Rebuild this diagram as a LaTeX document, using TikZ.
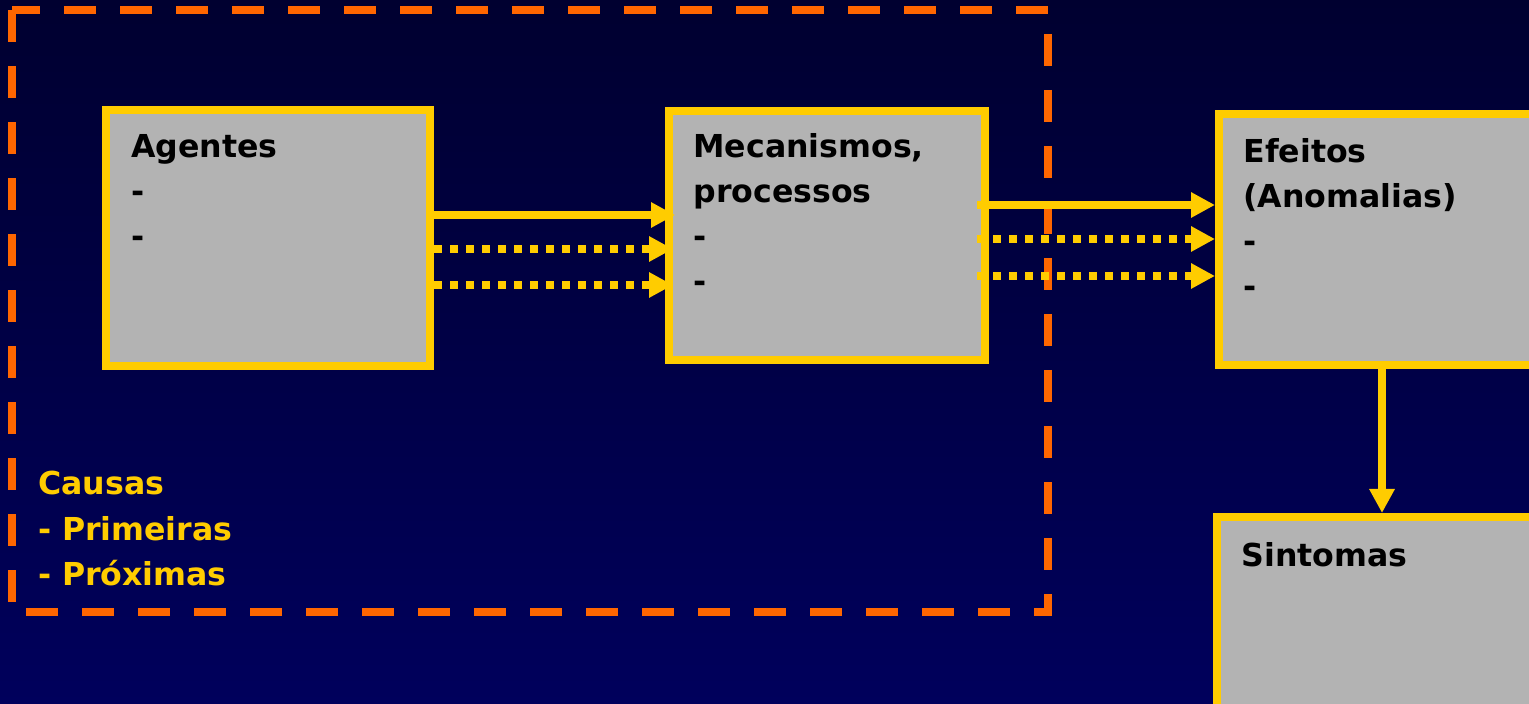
\documentclass[tikz,border=0pt]{standalone}
\usepackage{fontspec}
\setmainfont{DejaVu Sans}
\usetikzlibrary{arrows.meta}
\definecolor{bgtop}{RGB}{0,0,48}
\definecolor{bgbot}{RGB}{0,0,92}
\definecolor{ylw}{RGB}{255,204,0}
\definecolor{org}{RGB}{255,102,0}
\definecolor{boxgray}{RGB}{179,179,179}
\tikzset{
  box/.style={draw=ylw, line width=4pt, fill=boxgray, anchor=north west, inner sep=0pt, outer sep=0pt},
  txt/.style={anchor=base west, inner sep=0pt, align=left, text width=250pt,
    font=\fontsize{15.8pt}{22.5pt}\selectfont\bfseries},
  solidarr/.style={draw=ylw, line width=3.6pt, -{Triangle[length=12pt,width=12pt]}},
  dotarr/.style={draw=ylw, line width=3.6pt, dash pattern=on 3.8pt off 4.2pt, -{Triangle[length=12pt,width=12pt]}},
  causebox/.style={draw=org, line width=4pt, dash pattern=on 16pt off 12pt}
}
\begin{document}
\begin{tikzpicture}[x=0.5pt,y=-0.5pt]
\useasboundingbox (0,0) rectangle (1529,704);
\clip (0,0) rectangle (1529,704);
\shade[top color=bgtop, bottom color=bgbot] (0,0) rectangle (1529,704);

% boxes
\node[box, minimum width=162pt, minimum height=128pt] (agentes) at (106,110) {};
\node[box, minimum width=158pt, minimum height=124.5pt] (mecan) at (669,111) {};
\node[box, minimum width=175pt, minimum height=125.5pt] (efeitos) at (1219,114) {};
\node[box, minimum width=176pt, minimum height=120pt] (sintomas) at (1217,517) {};

% dashed causes frame
\draw[causebox, dash phase=2pt] (12,10) -- (1048,10) -- (1048,612) -- (12,612) -- cycle;

% texts
\node[txt] (agentesT) at (131,158) {Agentes\\-\\-};
\node[txt] (mecanT) at (693,158) {Mecanismos,\\processos\\-\\-};
\node[txt] (efeitosT) at (1243,163) {Efeitos\\(Anomalias)\\-\\-};
\node[txt] (sintomasT) at (1241,567) {Sintomas};
\node[txt, text=ylw] (causasT) at (38,495) {Causas\\- Primeiras\\- Próximas};

% arrows agentes -> mecanismos
\draw[solidarr, shorten >=-3pt] (agentes.east |- 0,215) -- (mecan.west |- 0,215);
\draw[dotarr, shorten >=-2pt] ([xshift=2pt]agentes.east |- 0,249) -- (mecan.west |- 0,249);
\draw[dotarr, shorten >=-2pt] ([xshift=2pt]agentes.east |- 0,285) -- (mecan.west |- 0,285);

% arrows mecanismos -> efeitos
\draw[solidarr, shorten >=2pt] ([xshift=-4pt]mecan.east |- 0,205) -- (efeitos.west |- 0,205);
\draw[dotarr, shorten >=2pt] ([xshift=-4pt]mecan.east |- 0,239) -- (efeitos.west |- 0,239);
\draw[dotarr, shorten >=2pt] ([xshift=-4pt]mecan.east |- 0,276) -- (efeitos.west |- 0,276);

% efeitos -> sintomas
\draw[solidarr, shorten >=2pt] (1382,0 |- efeitos.south) -- (1382,0 |- sintomas.north);
\end{tikzpicture}
\end{document}
